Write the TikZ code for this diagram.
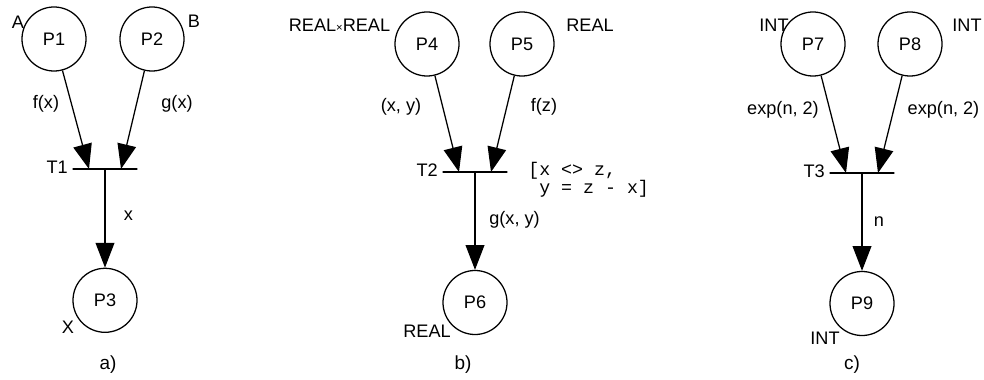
\documentclass[tikz,border=0pt]{standalone}
\usepackage{fontspec}
\setmainfont{Liberation Sans}
\setmonofont{Liberation Mono}
\usetikzlibrary{positioning, arrows.meta}
\newcommand{\netfont}{\fontsize{12.9}{14}\selectfont}
\newcommand{\guardfont}{\ttfamily\fontsize{13}{12.8}\selectfont}
\tikzset{
  place/.style    ={circle, draw, line width=0.9pt, minimum size=1.6cm, inner sep=0pt, font=\netfont},
  trans/.style    ={draw, line width=0.9pt, minimum width=1.62cm, minimum height=0pt, inner sep=0pt},
  netarc/.style   ={-{Triangle[length=0.62cm, width=0.47cm]}, line width=0.9pt},
  tag/.style      ={font=\netfont, inner sep=0pt},
  translabel/.style={font=\netfont, inner sep=0pt, yshift=1.5pt},
  guard/.style    ={font=\guardfont, align=left, inner sep=0pt, anchor=west},
  caption/.style  ={font=\fontsize{13.5}{15}\selectfont, inner sep=0pt}
}

\begin{document}
\begin{tikzpicture}[x=0.025cm, y=-0.025cm]
  \useasboundingbox (0,0) rectangle (984,380);

  % ====================== a) ======================
  \node[place] (p1) at (54,39)  {P1};
  \node[place] (p2) at (152,39) {P2};
  \node[trans] (t1) at (105,169) {};
  \node[translabel, left=0.1cm of t1] (t1lab) {T1};
  \node[place, below=2.45cm of t1] (p3) {P3};

  \draw[netarc] (p1) -- ([xshift=-0.4cm]t1.center);
  \draw[netarc] (p2) -- ([xshift=0.4cm]t1.center);
  \draw[netarc] (t1) -- (p3);

  \node[tag] (p1type) at (18,22)  {A};
  \node[tag] (p2type) at (194,21) {B};
  \node[tag] (p3type) at (68,327) {X};
  \node[tag] (a1lab) at (46,104)   {f(x)};
  \node[tag] (a2lab) at (177,104)  {g(x)};
  \node[tag] (a3lab) at (128.5,216) {x};
  \node[caption] (capa) at (108,365) {a)};

  % ====================== b) ======================
  \node[place] (p4) at (427,44) {P4};
  \node[place] (p5) at (522,44) {P5};
  \node[trans] (t2) at (475,172) {};
  \node[translabel, left=0.1cm of t2] (t2lab) {T2};
  \node[place, below=2.43cm of t2] (p6) {P6};

  \draw[netarc] (p4) -- ([xshift=-0.4cm]t2.center);
  \draw[netarc] (p5) -- ([xshift=0.4cm]t2.center);
  \draw[netarc] (t2) -- (p6);

  \node[tag] (p4type) at (339.5,25) {REAL{\footnotesize ×}REAL};
  \node[tag] (p5type) at (590,25)   {REAL};
  \node[tag] (p6type) at (427,331)  {REAL};
  \node[tag] (b1lab) at (401,107)   {(x, y)};
  \node[tag] (b2lab) at (544,107)   {f(z)};
  \node[tag] (b3lab) at (514.5,220) {g(x, y)};
  \node[guard] (t2guard) at (528,180) {[x <> z,\\\phantom{[}y = z - x]};
  \node[caption] (capb) at (463,365) {b)};

  % ====================== c) ======================
  \node[place] (p7) at (813,44) {P7};
  \node[place] (p8) at (910,44) {P8};
  \node[trans] (t3) at (862,173) {};
  \node[translabel, left=0.1cm of t3] (t3lab) {T3};
  \node[place, below=2.43cm of t3] (p9) {P9};

  \draw[netarc] (p7) -- ([xshift=-0.4cm]t3.center);
  \draw[netarc] (p8) -- ([xshift=0.4cm]t3.center);
  \draw[netarc] (t3) -- (p9);

  \node[tag] (p7type) at (774,25)  {INT};
  \node[tag] (p8type) at (967,25)  {INT};
  \node[tag] (p9type) at (825,338) {INT};
  \node[tag] (c1lab) at (783,110)   {exp(n, 2)};
  \node[tag] (c2lab) at (943.5,110) {exp(n, 2)};
  \node[tag] (c3lab) at (879,222)   {n};
  \node[caption] (capc) at (852,365) {c)};

\end{tikzpicture}
\end{document}
